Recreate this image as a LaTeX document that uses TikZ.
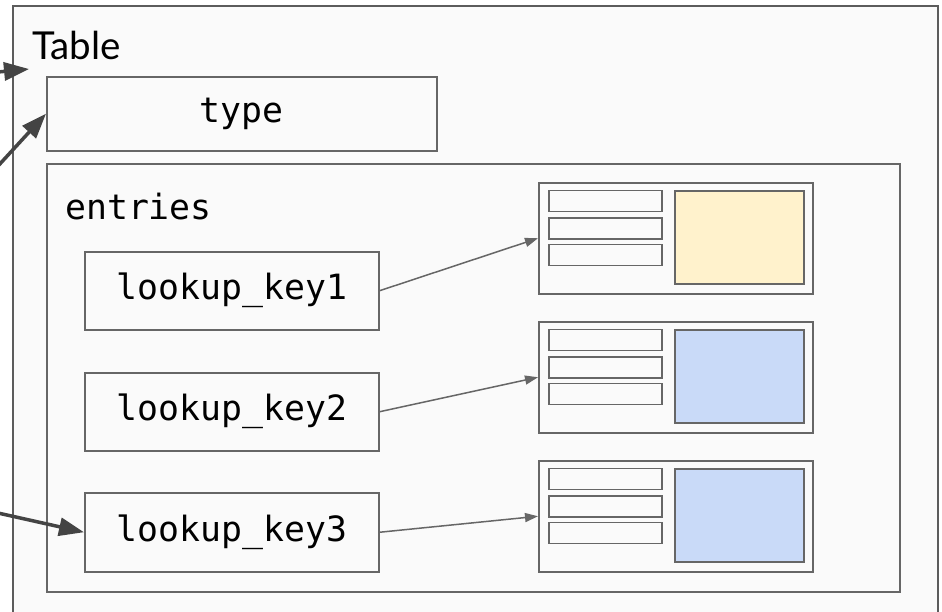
\documentclass[tikz,border=0pt]{standalone}
\usepackage{fontspec}
\setmainfont{Lato}
\newfontfamily\codefont{DejaVu Sans Mono}
\usetikzlibrary{arrows.meta}
\definecolor{edge}{HTML}{666666}
\definecolor{darkedge}{HTML}{444444}
\definecolor{paper}{HTML}{FAFAFA}
\definecolor{keyfill}{HTML}{FFF2CC}
\definecolor{valfill}{HTML}{C9DAF8}
\tikzset{
  box/.style={draw=edge, line width=1.5pt, fill=paper, rectangle, inner sep=0pt, anchor=north west},
  codebox/.style={box, font=\codefont\fontsize{34.8}{40}\selectfont},
  slot/.style={draw=edge, line width=1.5pt, fill=paper, rectangle, inner sep=0pt, anchor=north west,
               minimum width=113pt, minimum height=21pt},
  payload/.style={draw=edge, line width=1.5pt, rectangle, inner sep=0pt, anchor=north west,
                  minimum width=129pt, minimum height=93pt},
  link/.style={draw=edge, line width=1.5pt, -{Triangle[length=13pt,width=9pt]}},
  ref/.style={draw=darkedge, line width=3.5pt, -{Triangle[length=25pt,width=18pt]}},
}
\begin{document}
\begin{tikzpicture}[x=1pt,y=-1pt]
\useasboundingbox[fill=white] (0,0) rectangle (942,611);

% outer table frame (runs past the lower edge)
\node[box, draw=edge!90!black, line width=2pt, minimum width=925pt, minimum height=640pt] (table) at (12,5) {};
\node[anchor=base west, inner sep=0pt, font=\fontsize{38.5}{44}\selectfont] (tlabel) at (32,59) {Table};

% type field
\node[codebox, minimum width=390pt, minimum height=74pt] (type) at (46,76) {type};

% entries container
\node[box, minimum width=853pt, minimum height=428pt] (entries) at (46,163) {};
\node[anchor=base west, inner sep=0pt, font=\codefont\fontsize{34.8}{40}\selectfont] (elabel) at (65,219) {entries};

% lookup keys
\node[codebox, minimum width=294pt, minimum height=78pt] (k1) at (84,251) {lookup\_key1};
\node[codebox, minimum width=294pt, minimum height=78pt] (k2) at (84,372) {lookup\_key2};
\node[codebox, minimum width=294pt, minimum height=79pt] (k3) at (84,492) {lookup\_key3};

% entry records
\foreach \n/\y/\c in {1/182/keyfill, 2/321/valfill, 3/460/valfill} {
  \node[box, minimum width=274pt, minimum height=111pt] (s\n) at (538,\y) {};
  \node[slot] (s\n a) at (548,\y+7.5) {};
  \node[slot] (s\n b) at (548,\y+35) {};
  \node[slot] (s\n c) at (548,\y+61.5) {};
  \node[payload, fill=\c] (s\n p) at (674,\y+8) {};
}

% key -> entry links
\draw[link] (k1.east) -- (s1.west);
\draw[link] (k2.east) -- (s2.west);
\draw[link] (k3.east) -- (s3.west);

% incoming references
\coordinate (in1) at (-2,72);
\coordinate (in2) at (-2,166);
\coordinate (in3) at (-2,513);
\draw[ref] (in1) -- (29,69);
\draw[ref] (in2) -- (type.west);
\draw[ref] (in3) -- (k3.west);
\end{tikzpicture}
\end{document}
